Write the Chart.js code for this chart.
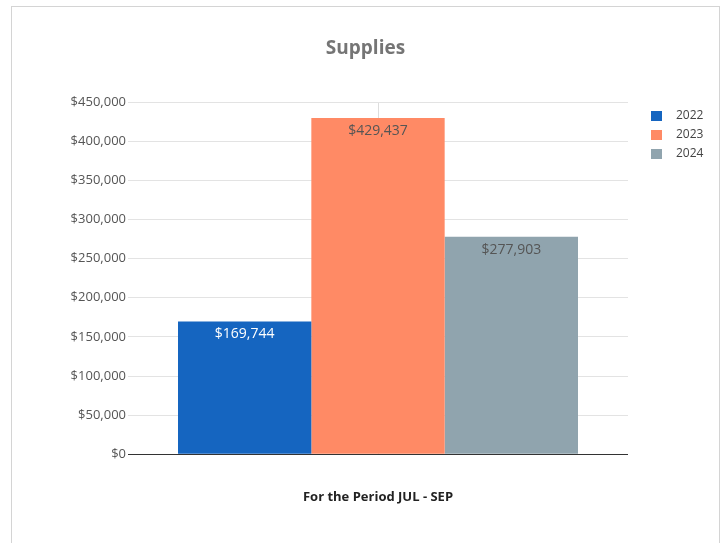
<!DOCTYPE html>
<html>
<head>
<meta charset="utf-8">
<script src="https://cdn.jsdelivr.net/npm/chart.js@4"></script>
<style>
  html, body { margin: 0; padding: 0; background: #fff; overflow: hidden; }
  body { width: 726px; height: 543px; position: relative; }
  .frame {
    position: absolute; left: 11px; top: 6px;
    width: 707px; height: 560px;
    border: 1px solid #d4d4d4;
  }
  canvas { display: block; }
</style>
</head>
<body>
<div class="frame">
  <canvas id="chartCanvas" width="707" height="536"></canvas>
</div>
<script>
const categories = [''];
const years = ['2022', '2023', '2024'];
const supplies2022 = [169744];
const supplies2023 = [429437];
const supplies2024 = [277903];
const yTicks = [0, 50000, 100000, 150000, 200000, 250000, 300000, 350000, 400000, 450000];

const barColors = ['#1565c0', '#ff8a65', '#90a4ae'];
const labelColors = ['#ffffff', '#555555', '#555555'];

const money = v => '$' + v.toLocaleString('en-US');

// value text inside the top of each bar
const barValueLabels = {
  id: 'barValueLabels',
  afterDatasetsDraw(chart) {
    const ctx = chart.ctx;
    ctx.save();
    ctx.font = '14px "Open Sans"';
    ctx.textAlign = 'center';
    ctx.textBaseline = 'middle';
    chart.data.datasets.forEach((ds, i) => {
      chart.getDatasetMeta(i).data.forEach((bar, j) => {
        ctx.fillStyle = labelColors[i];
        ctx.fillText(money(ds.data[j]), bar.x, bar.y + 13);
      });
    });
    ctx.restore();
  }
};

// simple legend in the right margin (space kept free by the yRight axis)
const sideLegend = {
  id: 'sideLegend',
  afterDraw(chart) {
    const ctx = chart.ctx;
    ctx.save();
    ctx.font = '12px "Open Sans"';
    ctx.textBaseline = 'middle';
    ctx.textAlign = 'left';
    chart.data.datasets.forEach((ds, i) => {
      const y = 109 + i * 19;
      ctx.fillStyle = ds.backgroundColor;
      ctx.fillRect(639, y - 5, 11, 10);
      ctx.fillStyle = '#444';
      ctx.fillText(ds.label, 664, y);
    });
    ctx.restore();
  }
};

const chartData = {
  labels: categories,
  datasets: [
    { label: years[0], data: supplies2022, backgroundColor: barColors[0] },
    { label: years[1], data: supplies2023, backgroundColor: barColors[1] },
    { label: years[2], data: supplies2024, backgroundColor: barColors[2] }
  ]
};

new Chart(document.getElementById('chartCanvas'), {
  type: 'bar',
  data: chartData,
  plugins: [barValueLabels, sideLegend],
  options: {
    responsive: false,
    animation: false,
    devicePixelRatio: 1,
    layout: { padding: 0 },
    datasets: { bar: { barPercentage: 1, categoryPercentage: 0.8 } },
    plugins: {
      legend: { display: false },
      tooltip: { enabled: false },
      title: {
        display: true,
        text: 'Supplies',
        color: '#757575',
        font: { family: '"Open Sans"', size: 19, weight: 'bold' },
        padding: { top: 30.6, bottom: 41.6 }
      }
    },
    scales: {
      x: {
        grid: { offset: false, color: '#dddddd', drawTicks: false },
        border: { display: false },
        ticks: { display: false },
        title: {
          display: true,
          text: 'For the Period JUL - SEP',
          color: '#222',
          font: { family: '"Open Sans"', size: 13, weight: 'bold' },
          padding: { top: 35.5, bottom: 37.6 }
        }
      },
      y: {
        min: 0,
        max: 450000,
        afterFit(scale) { scale.width = 116; },
        afterBuildTicks(scale) { scale.ticks = yTicks.map(v => ({ value: v })); },
        grid: {
          drawTicks: false,
          color: c => c.tick && c.tick.value === 0 ? '#333333' : '#e3e3e3'
        },
        border: { display: false },
        ticks: {
          padding: 2,
          color: '#555',
          font: { family: '"Open Sans"', size: 13 },
          callback: v => money(v)
        }
      },
      // empty right axis, only reserves room for the legend
      yRight: {
        position: 'right',
        min: 0,
        max: 450000,
        afterFit(scale) { scale.width = 91; },
        grid: { display: false },
        border: { display: false },
        ticks: { display: false }
      }
    }
  }
});
</script>
</body>
</html>
